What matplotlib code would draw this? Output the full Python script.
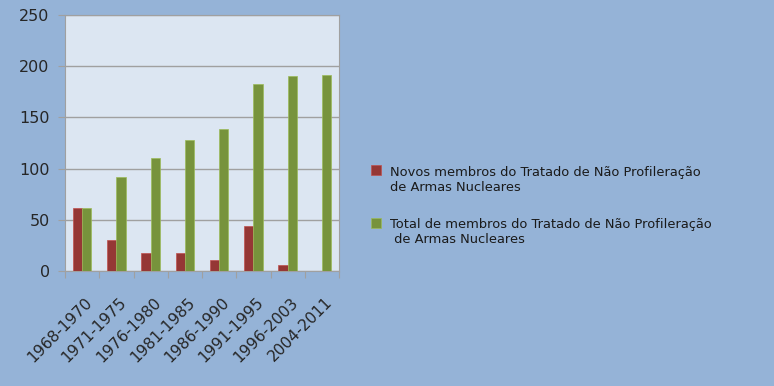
import matplotlib
matplotlib.use("Agg")
import matplotlib.pyplot as plt
import matplotlib.transforms as mtransforms
import numpy as np

categories = ["1968-1970", "1971-1975", "1976-1980", "1981-1985",
              "1986-1990", "1991-1995", "1996-2003", "2004-2011"]
novos = [62, 30, 18, 18, 11, 44, 6, 0]
total = [62, 92, 110, 128, 139, 183, 190, 191]
series_names = ["Novos membros do Tratado de Não Profileração\nde Armas Nucleares",
                "Total de membros do Tratado de Não Profileração\n de Armas Nucleares"]
yticks = [0, 50, 100, 150, 200, 250]

fig = plt.figure(figsize=(7.74, 3.86), dpi=100)
fig.patch.set_facecolor("#95B3D7")
ax = fig.add_axes([65/774, 1-271/386, 274/774, 256/386])
ax.set_facecolor("#DCE6F2")

x = np.arange(len(categories))
w = 0.27
ax.bar(x - w/2, novos, w, color="#953735", edgecolor="#C0504D", linewidth=0.5, label=series_names[0], zorder=3)
ax.bar(x + w/2, total, w, color="#77933C", edgecolor="#9BBB59", linewidth=0.5, label=series_names[1], zorder=3)

ax.set_xlim(-0.5, len(categories) - 0.5)
ax.set_ylim(0, 250)
ax.set_yticks(yticks)
ax.set_yticklabels([str(v) for v in yticks], fontsize=11.5, color="#262626")
ax.yaxis.grid(True, color="#A0A0A0", linewidth=1, zorder=0)
ax.set_xticks(np.arange(len(categories) + 1) - 0.5, minor=False)
ax.set_xticklabels([])
ax.set_xticks(x, minor=True)
ax.set_xticklabels(categories, minor=True, rotation=45, ha="right", rotation_mode="anchor",
                   fontsize=11.2, color="#262626")
ax.tick_params(axis="x", which="minor", length=0, pad=17)
ax.tick_params(axis="x", which="major", length=5, color="#A0A0A0", direction="out")
ax.tick_params(axis="y", length=5, color="#A0A0A0", direction="out", pad=6)
shift = mtransforms.ScaledTranslation(2/72, 0, fig.dpi_scale_trans)
for lbl in ax.get_xticklabels(minor=True):
    lbl.set_transform(lbl.get_transform() + shift)
for s in ["top", "right", "left", "bottom"]:
    ax.spines[s].set_color("#A0A0A0")

handles, labels = ax.get_legend_handles_labels()
leg = fig.legend(handles, labels, loc="center left", bbox_to_anchor=(359/774, 1-206/386),
                 frameon=False, fontsize=9.4, handlelength=0.8, handleheight=0.8,
                 labelspacing=1.9, handletextpad=0.7)
for t in leg.get_texts():
    t.set_color("#1a1a1a")
for h in leg.legend_handles:
    h.set_y(h.get_y() + 7)

fig.savefig("out.png", dpi=100, facecolor=fig.get_facecolor())
